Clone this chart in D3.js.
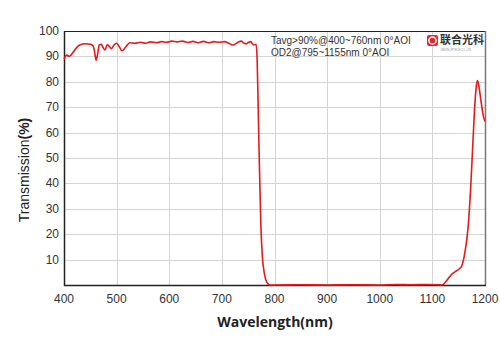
<!DOCTYPE html>
<html>
<head>
<meta charset="utf-8">
<script src="https://cdn.jsdelivr.net/npm/d3@7"></script>
<style>
  body { margin: 0; background: #fff; }
  svg { display: block; }
</style>
</head>
<body>
<div class="chart"></div>
<script>
var chartWidth = 500;
var chartHeight = 353;
var chartMargin = {
    top: 31,
    left: 64,
    right: 15,
    bottom: 67
};

// wavelength (nm) and transmission (%)
var wavelengths = [400, 405, 410, 417, 422, 430, 440, 450, 455, 458, 461, 464, 467, 471, 474, 478, 482, 486, 490, 495,
    500, 505, 510, 517, 525, 535, 545, 555, 565, 575, 585, 595, 605, 615, 625, 635, 645, 655, 665, 675,
    685, 695, 705, 712, 721, 730, 737, 742, 747, 751, 755, 758, 761, 765, 767, 769, 771, 774, 777, 781,
    785, 791, 800, 850, 900, 950, 1000, 1030, 1060, 1090, 1110, 1118, 1127, 1137, 1146, 1152, 1156, 1162, 1168, 1173,
    1177, 1181, 1184, 1186, 1189, 1192, 1197, 1200];
var transmission = [88.9, 90.5, 90, 91.5, 93, 94.5, 95, 94.8, 94.2, 92, 88.5, 91, 94.5, 94.8, 93.6, 92.5, 94.6, 94, 93, 94.5,
    95.2, 93.8, 92.2, 93.6, 95.4, 95.2, 95.6, 95.2, 95.7, 95.4, 95.8, 95.6, 96, 95.7, 96, 95.5, 95.9, 95.4, 95.9, 95.4,
    95.8, 95.6, 95.8, 95.3, 94.5, 95.5, 96, 95.2, 95, 95.6, 95.8, 95, 94.5, 94.8, 89, 70, 50, 24, 11, 4.3,
    1.2, 0, 0, 0.1, 0, 0.1, 0, 0.2, 0.1, 0.2, 0.1, 0, 1.7, 4.3, 5.6, 6.5, 7.6, 13, 23, 39,
    56, 72, 79, 80.5, 77.5, 73, 66.4, 64.4];

var xTicks = [400, 500, 600, 700, 800, 900, 1000, 1100, 1200];
var yTicks = [10, 20, 30, 40, 50, 60, 70, 80, 90, 100];
var yGrid = [0, 10, 20, 30, 40, 50, 60, 70, 80, 90, 100];

var noteLines = ["Tavg>90%@400~760nm 0°AOI", "OD2@795~1155nm 0°AOI"];
var logoText = "联合光科";

var data = wavelengths.map(function(w, i) { return {w: w, t: transmission[i]}; });

var svg = d3.select(".chart")
    .append("svg")
    .attr("width", chartWidth)
    .attr("height", chartHeight);

var xScale = d3.scaleLinear()
    .domain([400, 1200])
    .range([chartMargin.left, chartWidth - chartMargin.right]);

var yScale = d3.scaleLinear()
    .domain([0, 100])
    .range([chartHeight - chartMargin.bottom - 1, chartMargin.top]);

// window.top is read-only, so keep these names distinct
var plotLeft = xScale(400), plotRight = xScale(1200), plotTop = yScale(100), plotBottom = yScale(0);

// grid
svg.append("g")
    .selectAll("line")
    .data(xTicks)
    .enter()
    .append("line")
    .attr("x1", function(d) { return Math.round(xScale(d)) + 0.5; })
    .attr("x2", function(d) { return Math.round(xScale(d)) + 0.5; })
    .attr("y1", plotTop)
    .attr("y2", plotBottom)
    .attr("stroke", "#d4d4d4")
    .attr("stroke-width", 1);

svg.append("g")
    .selectAll("line")
    .data(yGrid)
    .enter()
    .append("line")
    .attr("x1", plotLeft)
    .attr("x2", plotRight)
    .attr("y1", function(d) { return Math.round(yScale(d)) + 0.5; })
    .attr("y2", function(d) { return Math.round(yScale(d)) + 0.5; })
    .attr("stroke", "#d4d4d4")
    .attr("stroke-width", 1);

// frame
svg.append("line").attr("x1", plotLeft).attr("x2", plotRight).attr("y1", Math.round(plotTop) + 0.5).attr("y2", Math.round(plotTop) + 0.5)
    .attr("stroke", "#222").attr("stroke-width", 1);
svg.append("line").attr("x1", Math.round(plotRight) + 0.5).attr("x2", Math.round(plotRight) + 0.5).attr("y1", plotTop).attr("y2", plotBottom)
    .attr("stroke", "#777").attr("stroke-width", 1.5);
svg.append("line").attr("x1", plotLeft).attr("x2", plotRight + 1).attr("y1", Math.round(plotBottom) + 0.5).attr("y2", Math.round(plotBottom) + 0.5)
    .attr("stroke", "#222").attr("stroke-width", 1.5);
svg.append("line").attr("x1", Math.round(plotLeft) + 0.5).attr("x2", Math.round(plotLeft) + 0.5).attr("y1", plotTop).attr("y2", plotBottom + 1)
    .attr("stroke", "#222").attr("stroke-width", 1.5);

// tick labels
svg.append("g")
    .selectAll("text")
    .data(xTicks)
    .enter()
    .append("text")
    .attr("x", function(d) { return xScale(d); })
    .attr("y", plotBottom + 18)
    .attr("text-anchor", "middle")
    .attr("font-family", "Liberation Sans, Arial, sans-serif")
    .attr("font-size", 12)
    .attr("fill", "#333")
    .text(function(d) { return d; });

svg.append("g")
    .selectAll("text")
    .data(yTicks)
    .enter()
    .append("text")
    .attr("x", plotLeft - 5)
    .attr("y", function(d) { return yScale(d) + 4; })
    .attr("text-anchor", "end")
    .attr("font-family", "Liberation Sans, Arial, sans-serif")
    .attr("font-size", 12)
    .attr("fill", "#333")
    .text(function(d) { return d; });

// axis titles
svg.append("text")
    .attr("x", 275)
    .attr("y", 327)
    .attr("text-anchor", "middle")
    .attr("font-family", "Open Sans, sans-serif")
    .attr("font-weight", "bold")
    .attr("font-size", 14)
    .attr("fill", "#222")
    .text("Wavelength(nm)");

var yTitle = svg.append("text")
    .attr("transform", "translate(29,170) rotate(-90)")
    .attr("text-anchor", "middle")
    .attr("font-family", "Liberation Sans, Arial, sans-serif")
    .attr("font-size", 14)
    .attr("fill", "#222");
yTitle.append("tspan").text("Transmission");
yTitle.append("tspan").attr("font-weight", "bold").text("(%)");

// curve
var line = d3.line()
    .x(function(d) { return xScale(d.w); })
    .y(function(d) { return yScale(d.t); })
    .curve(d3.curveMonotoneX);

svg.append("path")
    .datum(data)
    .attr("d", line)
    .attr("fill", "none")
    .attr("stroke", "#e41a1c")
    .attr("stroke-width", 1.6)
    .attr("stroke-linejoin", "round");

// note
svg.append("g")
    .selectAll("text")
    .data(noteLines)
    .enter()
    .append("text")
    .attr("x", 271)
    .attr("y", function(d, i) { return 44 + i * 12; })
    .attr("font-family", "Liberation Sans, Arial, sans-serif")
    .attr("font-size", 10)
    .attr("fill", "#333")
    .text(function(d) { return d; });

// logo
var logo = svg.append("g").attr("transform", "translate(427,35)");
logo.append("rect").attr("width", 11).attr("height", 11).attr("rx", 2).attr("fill", "#e0282e");
logo.append("circle").attr("cx", 5.5).attr("cy", 5.5).attr("r", 3.6).attr("fill", "none").attr("stroke", "#fff").attr("stroke-width", 1.5);
logo.append("text")
    .attr("x", 13)
    .attr("y", 9)
    .attr("font-family", "Noto Sans CJK SC, sans-serif")
    .attr("font-weight", "bold")
    .attr("font-size", 11)
    .attr("fill", "#333")
    .text(logoText);
logo.append("text")
    .attr("x", 13.5)
    .attr("y", 15.5)
    .attr("font-family", "Liberation Sans, Arial, sans-serif")
    .attr("font-size", 2.6)
    .attr("fill", "#888")
    .text("UNION  OPTECH  CO.,LTD");
</script>
</body>
</html>
